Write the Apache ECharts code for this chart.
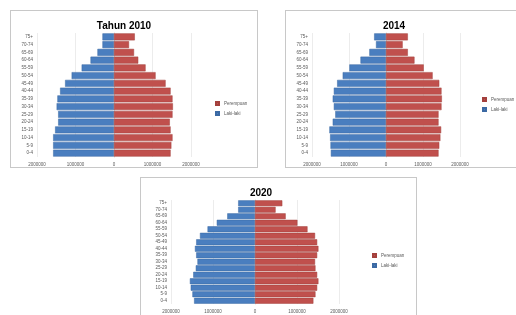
<!DOCTYPE html>
<html lang="id">

<head>
    <meta charset="UTF-8">
    <title>Piramida Penduduk</title>
    <script src="https://cdn.jsdelivr.net/npm/echarts@6/dist/echarts.min.js"></script>
    <style>
        body,
        html {
            background-color: #fff;
            width: 516px;
            height: 315px;
            margin: 0;
            overflow: hidden;
        }

        .panel {
            position: absolute;
            border: 1px solid #c8c8c8;
            background: #fff;
            box-sizing: border-box;
        }
    </style>
</head>

<body>
    <div id="p2010" class="panel" style="left:10px; top:10px; width:248px; height:158px;"></div>
    <div id="p2014" class="panel" style="left:285px; top:10px; width:240px; height:158px;"></div>
    <div id="p2020" class="panel" style="left:140px; top:177px; width:277px; height:150px;"></div>
    <script>
        // kelompok umur, dari bawah ke atas
        var ages = ['0-4', '5-9', '10-14', '15-19', '20-24', '25-29', '30-34', '35-39',
            '40-44', '45-49', '50-54', '55-59', '60-64', '65-69', '70-74', '75+'];

        var laki2010 = [1580000, 1580000, 1580000, 1530000, 1450000, 1450000, 1490000, 1470000,
            1400000, 1270000, 1100000, 840000, 610000, 430000, 300000, 300000];
        var perempuan2010 = [1470000, 1490000, 1520000, 1470000, 1450000, 1520000, 1530000, 1520000,
            1470000, 1340000, 1080000, 820000, 630000, 520000, 390000, 540000];

        var laki2014 = [1490000, 1500000, 1510000, 1530000, 1440000, 1370000, 1410000, 1440000,
            1410000, 1320000, 1170000, 990000, 690000, 450000, 270000, 320000];
        var perempuan2014 = [1420000, 1440000, 1470000, 1490000, 1420000, 1420000, 1500000, 1510000,
            1500000, 1440000, 1260000, 1020000, 770000, 590000, 450000, 590000];

        var laki2020 = [1450000, 1490000, 1530000, 1550000, 1470000, 1410000, 1370000, 1400000,
            1430000, 1400000, 1310000, 1130000, 910000, 660000, 400000, 400000];
        var perempuan2020 = [1390000, 1440000, 1480000, 1510000, 1480000, 1440000, 1430000, 1480000,
            1510000, 1480000, 1430000, 1250000, 1010000, 730000, 490000, 650000];

        var tickLabels = ['2000000', '1000000', '0', '1000000', '2000000'];

        var blue = '#4a7ebf';
        var red = '#c0504d';

        function pyramid(id, title, laki, perempuan, lay) {
            var chart = echarts.init(document.getElementById(id));
            chart.setOption({
                animation: false,
                textStyle: { fontFamily: 'Liberation Sans, Arial, sans-serif' },
                title: {
                    text: title,
                    left: lay.titleX,
                    top: 5,
                    textAlign: 'center',
                    textStyle: { fontSize: 10, fontWeight: 'bold', color: '#000' }
                },
                legend: {
                    data: ['Perempuan', 'Laki-laki'],
                    orient: 'vertical',
                    left: lay.legendX,
                    top: lay.legendY,
                    itemWidth: 3,
                    itemHeight: 3,
                    itemGap: 5,
                    icon: 'rect',
                    textStyle: { fontSize: 4.5, color: '#595959' }
                },
                grid: {
                    left: lay.left,
                    top: lay.top,
                    width: lay.width,
                    height: lay.height
                },
                xAxis: {
                    type: 'value',
                    min: -2000000,
                    max: 2000000,
                    interval: 1000000,
                    axisLine: { show: false },
                    axisTick: { show: false },
                    splitLine: { show: true, lineStyle: { color: '#ececec', width: 1 } },
                    axisLabel: {
                        fontSize: 4.5,
                        color: '#595959',
                        margin: 5,
                        formatter: function (v) {
                            return tickLabels[Math.round(v / 1000000) + 2];
                        }
                    }
                },
                yAxis: {
                    type: 'category',
                    data: ages,
                    axisLine: { show: true, lineStyle: { color: '#d9d9d9' } },
                    axisTick: { show: false },
                    axisLabel: { fontSize: 4.5, color: '#595959', interval: 0, margin: 4 }
                },
                series: [
                    {
                        name: 'Laki-laki',
                        type: 'bar',
                        stack: 'p',
                        barCategoryGap: '10%',
                        itemStyle: { color: blue, borderColor: '#3b69a3', borderWidth: 0.5 },
                        data: laki.map(function (v) { return -v; })
                    },
                    {
                        name: 'Perempuan',
                        type: 'bar',
                        stack: 'p',
                        barCategoryGap: '10%',
                        itemStyle: { color: red, borderColor: '#a3403d', borderWidth: 0.5 },
                        data: perempuan
                    }
                ]
            });
        }

        pyramid('p2010', 'Tahun 2010', laki2010, perempuan2010,
            { titleX: 108, legendX: 199, legendY: 85, left: 26, top: 22, width: 154, height: 124 });
        pyramid('p2014', '2014', laki2014, perempuan2014,
            { titleX: 103, legendX: 191, legendY: 81, left: 26, top: 22, width: 148, height: 124 });
        pyramid('p2020', '2020', laki2020, perempuan2020,
            { titleX: 115, legendX: 226, legendY: 70, left: 30, top: 22, width: 168, height: 104 });
    </script>
</body>

</html>
